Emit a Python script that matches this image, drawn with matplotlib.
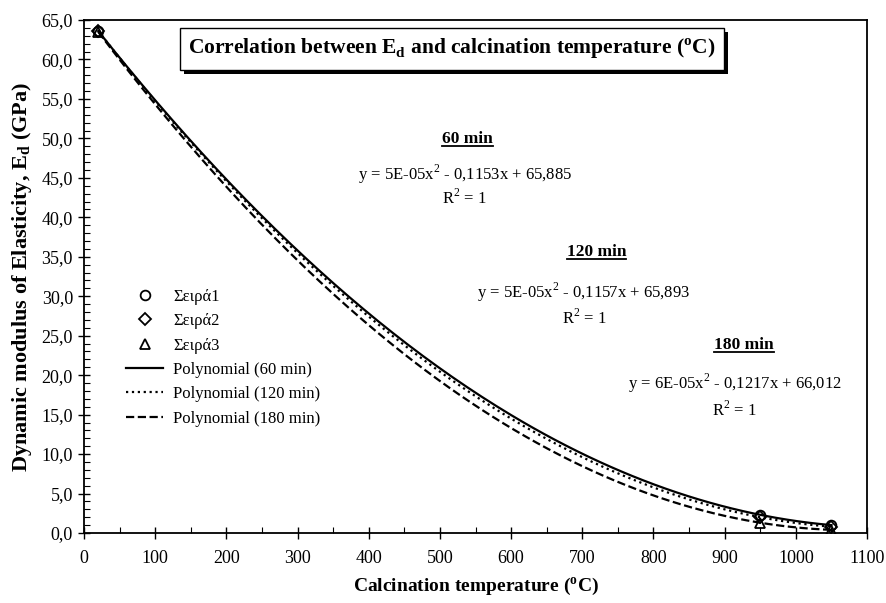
import numpy as np
import matplotlib.pyplot as plt
from matplotlib.ticker import MultipleLocator, FuncFormatter
from matplotlib.patches import Rectangle

plt.rcParams['font.family'] = ['Liberation Serif', 'DejaVu Serif']
plt.rcParams['mathtext.fontset'] = 'custom'
plt.rcParams['mathtext.rm'] = 'Liberation Serif'
plt.rcParams['mathtext.bf'] = 'Liberation Serif:bold'

# calcination temperature (C)
temps = [20, 950, 1050]
# dynamic modulus Ed (GPa) per series
ed_60 = [63.6, 2.3, 1.0]
ed_120 = [63.6, 2.0, 0.8]
ed_180 = [63.5, 1.3, 0.4]

series_names = ['Σειρά1', 'Σειρά2', 'Σειρά3']
fit_names = ['Polynomial (60 min)', 'Polynomial (120 min)', 'Polynomial (180 min)']
eq_labels = ['y = 5E-05x$^2$ - 0,1153x + 65,885',
             'y = 5E-05x$^2$ - 0,1157x + 65,893',
             'y = 6E-05x$^2$ - 0,1217x + 66,012']

fig = plt.figure(figsize=(8.86, 6.03), dpi=100)
ax = fig.add_axes([0.0948, 0.1161, 0.8838, 0.8507])

markers = ['o', 'D', '^']
msizes = [7, 6, 7]
styles = ['-', ':', '--']
data = [ed_60, ed_120, ed_180]

for ys, m, ms, name in zip(data, markers, msizes, series_names):
    ax.plot(temps, ys, linestyle='none', marker=m, markersize=ms,
            markerfacecolor='none', markeredgecolor='black', markeredgewidth=1.3,
            label=name, zorder=4)

xs = np.linspace(temps[0], temps[-1], 200)
for ys, ls, name in zip(data, styles, fit_names):
    coef = np.polyfit(temps, ys, 2)
    ax.plot(xs, np.polyval(coef, xs), color='black', linestyle=ls, linewidth=1.6,
            label=name)

ax.set_xlim(0, 1100)
ax.set_ylim(0, 65)
ax.xaxis.set_major_locator(MultipleLocator(100))
ax.xaxis.set_minor_locator(MultipleLocator(50))
ax.yaxis.set_major_locator(MultipleLocator(5))
ax.yaxis.set_minor_locator(MultipleLocator(1))
ax.yaxis.set_major_formatter(FuncFormatter(lambda v, p: f'{v:.1f}'.replace('.', ',')))
ax.tick_params(which='major', direction='inout', length=9, width=1, labelsize=13)
ax.tick_params(which='minor', direction='in', length=4, width=0.8)
ax.tick_params(axis='x', pad=8)
for s in ax.spines.values():
    s.set_linewidth(1.3)

ax.set_xlabel('Calcination temperature ($^\\mathbf{o}$C)', fontsize=14, fontweight='bold', labelpad=6)
ax.set_ylabel('Dynamic modulus of Elasticity, E$_\\mathbf{d}$ (GPa)', fontsize=16,
              fontweight='bold', labelpad=5)

# title box with shadow
title = ax.text(0.47, 0.944,
                'Correlation between E$_\\mathbf{d}$ and calcination temperature ($^\\mathbf{o}$C)',
                transform=ax.transAxes, ha='center', va='center', fontsize=15.5, fontweight='bold',
                zorder=5,
                bbox=dict(boxstyle='square,pad=0.4', facecolor='white', edgecolor='black', linewidth=1))

heads = ['60 min', '120 min', '180 min']
head_pos = [(539, 49.9), (720, 35.6), (927, 23.8)]
eq_pos = [(535, 45.4), (702, 30.5), (914, 19.0)]
r2_pos = [(535, 42.5), (703, 27.2), (914, 15.6)]
head_texts = []
for h, hp, eq, ep, rp in zip(heads, head_pos, eq_labels, eq_pos, r2_pos):
    head_texts.append(ax.text(hp[0], hp[1], h, ha='center', va='center', fontsize=12.5,
                              fontweight='bold'))
    ax.text(ep[0], ep[1], eq, ha='center', va='center', fontsize=12)
    ax.text(rp[0], rp[1], 'R$^2$ = 1', ha='center', va='center', fontsize=12)

fig.canvas.draw()
rend = fig.canvas.get_renderer()
for t in head_texts:
    bb = t.get_window_extent(rend).transformed(ax.transData.inverted())
    ax.plot([bb.x0, bb.x1], [bb.y0 + 0.1, bb.y0 + 0.1], color='black', linewidth=1.3)

bb = title.get_bbox_patch().get_window_extent(rend)
bb = bb.translated(4, -4).transformed(ax.transAxes.inverted())
ax.add_patch(Rectangle((bb.x0, bb.y0), bb.width, bb.height, transform=ax.transAxes,
                       facecolor='black', edgecolor='none', zorder=4.9))

ax.legend(loc='upper left', bbox_to_anchor=(0.035, 0.505), frameon=False, fontsize=12,
          handlelength=2.2, handletextpad=0.6, labelspacing=0.5)

fig.savefig('out.png', dpi=100)
